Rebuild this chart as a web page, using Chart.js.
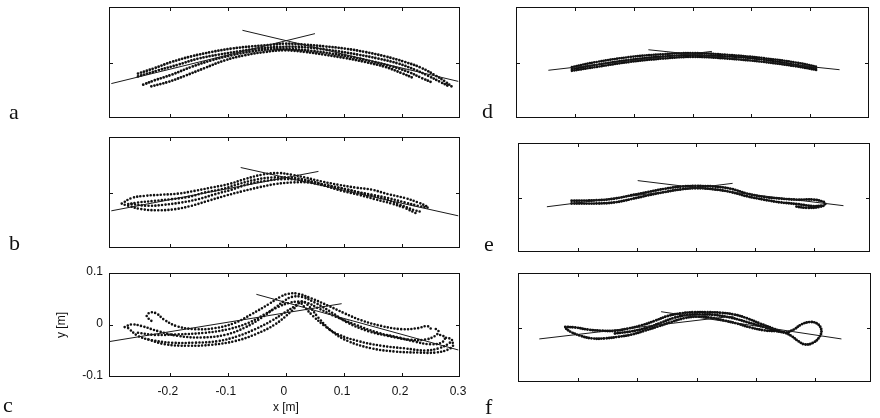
<!DOCTYPE html>
<html>
<head>
<meta charset="utf-8">
<script src="https://cdn.jsdelivr.net/npm/chart.js@4.4.1/dist/chart.umd.min.js"></script>
<style>
  html, body { margin: 0; padding: 0; background: #fff; }
  #wrap { position: relative; width: 880px; height: 418px; }
  #wrap canvas { position: absolute; left: 0; top: 0; }
</style>
</head>
<body>
<div id="wrap">
  <canvas id="pa" width="880" height="418"></canvas>
  <canvas id="pb" width="880" height="418"></canvas>
  <canvas id="pc" width="880" height="418"></canvas>
  <canvas id="pd" width="880" height="418"></canvas>
  <canvas id="pe" width="880" height="418"></canvas>
  <canvas id="pf" width="880" height="418"></canvas>
</div>
<script>
// axis ticks (metres)
const xTickVals = [-0.2, -0.1, 0, 0.1, 0.2, 0.3];
const xTickLabels = ["-0.2", "-0.1", "0", "0.1", "0.2", "0.3"];
const yTickVals = [0.1, 0, -0.1];
const yTickLabels = ["0.1", "0", "-0.1"];

// panel a
const aLineL = [[-0.301, -0.038], [0.050, 0.052]];
const aLineR = [[-0.075, 0.058], [0.297, -0.034]];
const aS1 = [[-0.255,-0.020],[-0.226,-0.010],[-0.197,0.001],[-0.163,0.011],[-0.128,0.019],[-0.094,0.025],[-0.059,0.029],[-0.025,0.032],[-0.002,0.034],[0.033,0.032],[0.067,0.029],[0.102,0.025],[0.136,0.019],[0.171,0.011],[0.205,0.001],[0.234,-0.010],[0.257,-0.023],[0.274,-0.034],[0.289,-0.046]];
const aS2 = [[-0.255,-0.025],[-0.220,-0.014],[-0.186,-0.004],[-0.151,0.007],[-0.117,0.014],[-0.082,0.020],[-0.048,0.025],[-0.013,0.028],[0.021,0.028],[0.056,0.025],[0.090,0.020],[0.125,0.014],[0.159,0.007],[0.194,-0.002],[0.222,-0.013],[0.245,-0.024],[0.266,-0.035],[0.283,-0.044]];
const aS3 = [[-0.246,-0.040],[-0.226,-0.032],[-0.197,-0.022],[-0.163,-0.008],[-0.128,0.004],[-0.094,0.013],[-0.059,0.020],[-0.025,0.024],[0.010,0.024],[0.044,0.021],[0.079,0.016],[0.113,0.010],[0.148,0.002],[0.182,-0.007],[0.211,-0.017],[0.234,-0.028],[0.254,-0.037]];
const aS4 = [[-0.232,-0.043],[-0.203,-0.035],[-0.174,-0.024],[-0.140,-0.010],[-0.105,0.004],[-0.071,0.013],[-0.036,0.019],[-0.002,0.022],[0.033,0.019],[0.067,0.014],[0.102,0.008],[0.136,0.001],[0.171,-0.008],[0.199,-0.019],[0.222,-0.029]];

// panel b
const bLineL = [[-0.301, -0.033], [0.056, 0.038]];
const bLineR = [[-0.078, 0.045], [0.297, -0.042]];
const bS1 = [[-0.283,-0.020],[-0.266,-0.010],[-0.243,-0.006],[-0.214,-0.004],[-0.186,-0.002],[-0.157,0.003],[-0.128,0.009],[-0.099,0.015],[-0.071,0.024],[-0.042,0.032],[-0.013,0.035],[0.010,0.032],[0.033,0.027],[0.061,0.020],[0.090,0.014],[0.119,0.009],[0.148,0.005],[0.176,-0.003],[0.205,-0.010],[0.228,-0.018],[0.245,-0.026]];
const bS2 = [[-0.278,-0.022],[-0.255,-0.018],[-0.226,-0.015],[-0.197,-0.012],[-0.168,-0.008],[-0.140,0.000],[-0.111,0.006],[-0.082,0.015],[-0.053,0.023],[-0.025,0.027],[0.004,0.027],[0.033,0.023],[0.061,0.015],[0.090,0.009],[0.119,0.002],[0.148,-0.004],[0.176,-0.010],[0.205,-0.018],[0.228,-0.024],[0.248,-0.028]];
const bS3 = [[-0.272,-0.024],[-0.249,-0.030],[-0.220,-0.032],[-0.191,-0.030],[-0.163,-0.024],[-0.134,-0.015],[-0.105,-0.006],[-0.076,0.002],[-0.048,0.009],[-0.019,0.015],[0.010,0.018],[0.039,0.018],[0.067,0.012],[0.096,0.003],[0.125,-0.004],[0.153,-0.012],[0.182,-0.020],[0.205,-0.028],[0.225,-0.038]];
const bS4 = [[-0.266,-0.021],[-0.237,-0.024],[-0.209,-0.022],[-0.180,-0.018],[-0.151,-0.012],[-0.122,-0.003],[-0.094,0.005],[-0.065,0.015],[-0.036,0.021],[-0.007,0.024],[0.021,0.023],[0.050,0.018],[0.079,0.011],[0.107,0.005],[0.136,-0.003],[0.165,-0.010],[0.194,-0.021],[0.222,-0.032],[0.234,-0.035]];

// panel c
const cLineL = [[-0.305, -0.032], [0.096, 0.041]];
const cLineR = [[-0.051, 0.059], [0.297, -0.048]];
const cS1 = [[-0.232,0.008],[-0.240,0.017],[-0.234,0.024],[-0.223,0.022],[-0.211,0.011],[-0.189,-0.002],[-0.157,-0.008],[-0.122,-0.006],[-0.088,0.004],[-0.059,0.021],[-0.030,0.040],[-0.010,0.054],[0.004,0.060],[0.021,0.060],[0.044,0.051],[0.073,0.037],[0.102,0.022],[0.130,0.009],[0.165,-0.002],[0.199,-0.008],[0.228,-0.006],[0.243,-0.002],[0.251,-0.008]];
const cS2 = [[-0.278,-0.004],[-0.266,0.001],[-0.249,-0.002],[-0.220,-0.012],[-0.186,-0.021],[-0.145,-0.024],[-0.105,-0.019],[-0.071,-0.005],[-0.042,0.014],[-0.019,0.033],[-0.002,0.047],[0.010,0.054],[0.027,0.054],[0.050,0.043],[0.079,0.024],[0.107,0.004],[0.142,-0.012],[0.176,-0.021],[0.211,-0.028],[0.240,-0.028],[0.257,-0.021],[0.263,-0.012],[0.254,-0.005]];
const cS3 = [[-0.272,-0.006],[-0.255,-0.021],[-0.232,-0.029],[-0.197,-0.034],[-0.157,-0.034],[-0.117,-0.031],[-0.082,-0.021],[-0.053,-0.008],[-0.025,0.008],[-0.002,0.024],[0.016,0.037],[0.024,0.043],[0.033,0.033],[0.047,0.017],[0.067,-0.002],[0.090,-0.018],[0.125,-0.031],[0.165,-0.040],[0.205,-0.045],[0.240,-0.049],[0.263,-0.045],[0.280,-0.036],[0.286,-0.028],[0.274,-0.024]];
const cS4 = [[-0.237,-0.028],[-0.209,-0.037],[-0.168,-0.040],[-0.128,-0.038],[-0.088,-0.031],[-0.053,-0.018],[-0.019,0.001],[0.010,0.027],[0.027,0.045],[0.039,0.037],[0.056,0.014],[0.079,-0.012],[0.107,-0.031],[0.148,-0.045],[0.188,-0.051],[0.228,-0.053],[0.257,-0.053],[0.280,-0.047],[0.289,-0.037],[0.283,-0.031]];
const cS5 = [[-0.255,-0.015],[-0.226,-0.019],[-0.186,-0.018],[-0.140,-0.015],[-0.099,-0.008],[-0.065,0.004],[-0.036,0.021],[-0.013,0.035],[0.007,0.043],[0.021,0.045],[0.036,0.043],[0.056,0.032],[0.084,0.017],[0.119,0.001],[0.159,-0.015],[0.194,-0.024],[0.222,-0.032],[0.248,-0.037],[0.268,-0.034],[0.274,-0.024],[0.263,-0.018]];

// panel d
const dLineL = [[-0.245, -0.014], [0.033, 0.020]];
const dLineR = [[-0.075, 0.023], [0.250, -0.013]];
const dS1 = [[-0.205,-0.008],[-0.163,0.001],[-0.106,0.010],[-0.050,0.015],[0.001,0.017],[0.058,0.014],[0.120,0.008],[0.176,0.000],[0.213,-0.008]];
const dS2 = [[-0.205,-0.012],[-0.163,-0.004],[-0.106,0.005],[-0.050,0.011],[0.001,0.013],[0.058,0.011],[0.120,0.005],[0.176,-0.004],[0.213,-0.011]];
const dS3 = [[-0.205,-0.015],[-0.163,-0.008],[-0.106,0.001],[-0.050,0.007],[0.001,0.010],[0.058,0.007],[0.120,0.001],[0.176,-0.007],[0.213,-0.014]];

// panel e
const eLineL = [[-0.253, -0.017], [0.062, 0.026]];
const eLineR = [[-0.099, 0.031], [0.250, -0.015]];
const eS1 = [[-0.211,-0.006],[-0.166,-0.005],[-0.138,-0.002],[-0.110,0.004],[-0.081,0.010],[-0.053,0.016],[-0.025,0.020],[0.000,0.021],[0.031,0.020],[0.059,0.016],[0.087,0.007],[0.115,0.001],[0.143,-0.002],[0.171,-0.004],[0.199,-0.004],[0.216,-0.008],[0.219,-0.012],[0.211,-0.017],[0.188,-0.019],[0.166,-0.016]];
const eS2 = [[-0.211,-0.011],[-0.166,-0.011],[-0.138,-0.009],[-0.110,-0.003],[-0.081,0.004],[-0.053,0.010],[-0.025,0.015],[0.000,0.017],[0.031,0.015],[0.059,0.010],[0.087,0.002],[0.115,-0.004],[0.143,-0.009],[0.171,-0.012],[0.199,-0.016],[0.213,-0.015]];

// panel f
const fLineL = [[-0.266, -0.021], [0.063, 0.021]];
const fLineR = [[-0.060, 0.029], [0.245, -0.021]];
const fS1 = [[-0.222,0.001],[-0.205,0.000],[-0.183,-0.004],[-0.160,-0.006],[-0.138,-0.006],[-0.116,-0.002],[-0.093,0.004],[-0.071,0.012],[-0.049,0.021],[-0.026,0.026],[-0.004,0.028],[0.018,0.028],[0.041,0.027],[0.063,0.024],[0.085,0.017],[0.108,0.007],[0.130,-0.002],[0.150,-0.009],[0.164,-0.004],[0.178,0.006],[0.192,0.010],[0.204,0.007],[0.211,-0.004],[0.208,-0.017],[0.197,-0.028],[0.183,-0.031],[0.172,-0.025],[0.161,-0.016],[0.150,-0.010],[0.136,-0.007]];
const fS2 = [[0.136,-0.007],[0.113,-0.005],[0.091,0.000],[0.069,0.007],[0.046,0.013],[0.024,0.018],[0.002,0.020],[-0.021,0.017],[-0.043,0.010],[-0.065,0.002],[-0.088,-0.006],[-0.110,-0.013],[-0.132,-0.017],[-0.155,-0.020],[-0.177,-0.020],[-0.197,-0.015],[-0.213,-0.008],[-0.222,-0.001]];
const fS3 = [[-0.138,-0.011],[-0.110,-0.007],[-0.082,0.000],[-0.060,0.009],[-0.037,0.018],[-0.015,0.023],[0.007,0.024],[0.030,0.023],[0.058,0.018],[0.085,0.010],[0.113,0.001],[0.136,-0.006]];

const pts = arr => arr.map(([x, y]) => ({ x, y }));

const framePlugin = {
  id: "frame",
  afterDatasetsDraw(chart, args, o) {
    const { ctx, chartArea: a, scales } = chart;
    const sx = scales.x, sy = scales.y;
    ctx.save();
    ctx.strokeStyle = "#111";
    ctx.lineWidth = 1;
    ctx.strokeRect(Math.round(a.left) + 0.5, Math.round(a.top) + 0.5,
      Math.round(a.right - a.left) - 1, Math.round(a.bottom - a.top) - 1);
    ctx.beginPath();
    xTickVals.forEach(v => {
      const px = Math.round(sx.getPixelForValue(v)) + 0.5;
      if (px < a.left + 2 || px > a.right - 2) return;
      ctx.moveTo(px, a.top); ctx.lineTo(px, a.top + 4);
      ctx.moveTo(px, a.bottom); ctx.lineTo(px, a.bottom - 4);
    });
    const py0 = Math.round(sy.getPixelForValue(0)) + 0.5;
    ctx.moveTo(a.left, py0); ctx.lineTo(a.left + 4, py0);
    ctx.moveTo(a.right, py0); ctx.lineTo(a.right - 4, py0);
    ctx.stroke();

    ctx.fillStyle = "#111";
    ctx.font = '22px "Liberation Serif", serif';
    ctx.textAlign = "left";
    ctx.textBaseline = "alphabetic";
    ctx.fillText(o.letter, o.lx, o.ly);

    if (o.labels) {
      ctx.font = '12px "Liberation Sans", Arial, sans-serif';
      ctx.textAlign = "right";
      ctx.textBaseline = "middle";
      yTickVals.forEach((v, i) => ctx.fillText(yTickLabels[i], a.left - 6, sy.getPixelForValue(v) - 1));
      ctx.textAlign = "center";
      xTickVals.forEach((v, i) => ctx.fillText(xTickLabels[i], sx.getPixelForValue(v) - 2, a.bottom + 15));
      ctx.fillText("x [m]", sx.getPixelForValue(0), a.bottom + 31);
      ctx.translate(a.left - 47, sy.getPixelForValue(0));
      ctx.rotate(-Math.PI / 2);
      ctx.fillText("y [m]", 0, 0);
    }
    ctx.restore();
  }
};

const panels = [
  { id: "pa", box: [109, 7, 460, 118], xr: [-0.305, 0.3], strands: [aS1, aS2, aS3, aS4], lines: [aLineL, aLineR], letter: "a", lx: 9, ly: 119, dot: 2.8, gap: 3.1 },
  { id: "pb", box: [109, 137, 460, 248], xr: [-0.305, 0.3], strands: [bS1, bS2, bS3, bS4], lines: [bLineL, bLineR], letter: "b", lx: 9, ly: 250, dot: 2.6, gap: 3.4 },
  { id: "pc", box: [109, 273, 460, 377], xr: [-0.305, 0.3], strands: [cS1, cS2, cS3, cS4, cS5], lines: [cLineL, cLineR], letter: "c", lx: 3, ly: 412, dot: 2.6, gap: 3.4, labels: true },
  { id: "pd", box: [516, 7, 869, 118], xr: [-0.3, 0.3], strands: [dS1, dS2, dS3], lines: [dLineL, dLineR], letter: "d", lx: 482, ly: 118, dot: 2.6, gap: 2.3 },
  { id: "pe", box: [518, 143, 870, 252], xr: [-0.302, 0.295], strands: [eS1, eS2], lines: [eLineL, eLineR], letter: "e", lx: 484, ly: 251, dot: 2.9, gap: 2.5 },
  { id: "pf", box: [518, 273, 871, 382], xr: [-0.302, 0.295], strands: [fS1, fS2, fS3], lines: [fLineL, fLineR], letter: "f", lx: 485, ly: 414, dot: 2.9, gap: 2.5 }
];

panels.forEach(p => {
  const [l, t, r, b] = p.box;
  const datasets = [];
  p.lines.forEach(ln => datasets.push({
    data: pts(ln), showLine: true, borderColor: "#1a1a1a", borderWidth: 1,
    pointRadius: 0, tension: 0
  }));
  p.strands.forEach(s => datasets.push({
    data: pts(s), showLine: true, borderColor: "#111", borderWidth: p.dot,
    borderDash: [0, p.gap], borderCapStyle: "round", pointRadius: 0, tension: 0.4
  }));
  new Chart(document.getElementById(p.id), {
    type: "scatter",
    data: { datasets },
    options: {
      responsive: false,
      animation: false,
      events: [],
      layout: { padding: { left: l, top: t, right: 880 - r, bottom: 418 - b } },
      plugins: {
        legend: { display: false },
        tooltip: { enabled: false },
        frame: { letter: p.letter, lx: p.lx, ly: p.ly, labels: !!p.labels }
      },
      scales: {
        x: { type: "linear", min: p.xr[0], max: p.xr[1], display: false },
        y: { type: "linear", min: -0.1, max: 0.1, display: false }
      }
    },
    plugins: [framePlugin]
  });
});
</script>
</body>
</html>
